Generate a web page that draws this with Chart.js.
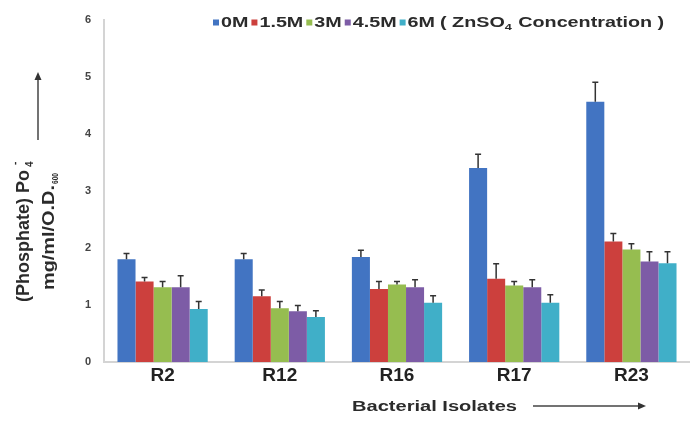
<!DOCTYPE html>
<html>
<head>
<meta charset="utf-8">
<script src="https://cdn.jsdelivr.net/npm/chart.js@4.4.1/dist/chart.umd.min.js"></script>
<style>
  body { margin: 0; background: #fff; }
</style>
</head>
<body>
<canvas id="myChart" width="690" height="421"></canvas>
<script>
const categories = ['R2', 'R12', 'R16', 'R17', 'R23'];
const seriesNames = ['0M', '1.5M', '3M', '4.5M', '6M'];

// mean values per ZnSO4 concentration
const values0M = [1.80, 1.80, 1.84, 3.40, 4.56];
const values1_5M = [1.41, 1.15, 1.28, 1.46, 2.11];
const values3M = [1.31, 0.94, 1.36, 1.34, 1.97];
const values4_5M = [1.31, 0.89, 1.31, 1.31, 1.76];
const values6M = [0.93, 0.79, 1.04, 1.04, 1.73];

// upper error bar lengths
const errors0M = [0.10, 0.10, 0.12, 0.24, 0.34];
const errors1_5M = [0.07, 0.11, 0.13, 0.26, 0.14];
const errors3M = [0.10, 0.12, 0.05, 0.07, 0.10];
const errors4_5M = [0.20, 0.10, 0.13, 0.13, 0.17];
const errors6M = [0.13, 0.11, 0.12, 0.14, 0.20];

const yTicks = [0, 1, 2, 3, 4, 5, 6];

const colors = ['#4274c2', '#cc403d', '#96bd50', '#7d5ca6', '#40afc8'];
const allValues = [values0M, values1_5M, values3M, values4_5M, values6M];
const allErrors = [errors0M, errors1_5M, errors3M, errors4_5M, errors6M];

const textColor = '#2b2b2b';

// draws text squeezed/stretched along its own direction to a given length
function fitText(ctx, text, x, y, font, length) {
    ctx.save();
    ctx.font = font;
    const w = ctx.measureText(text).width;
    ctx.translate(x, y);
    ctx.scale(length / w, 1);
    ctx.fillText(text, 0, 0);
    ctx.restore();
}

function stretchText(ctx, text, x, y, font, sx) {
    ctx.save();
    ctx.font = font;
    const w = ctx.measureText(text).width;
    ctx.translate(x, y);
    ctx.scale(sx, 1);
    ctx.fillText(text, 0, 0);
    ctx.restore();
    return w * sx;
}

const errorBars = {
    id: 'errorBars',
    afterDatasetsDraw(chart) {
        const ctx = chart.ctx;
        const y = chart.scales.y;
        ctx.save();
        ctx.strokeStyle = '#333';
        ctx.lineWidth = 1.5;
        chart.data.datasets.forEach((ds, i) => {
            chart.getDatasetMeta(i).data.forEach((bar, j) => {
                const top = y.getPixelForValue(ds.data[j] + ds.errors[j]);
                ctx.beginPath();
                ctx.moveTo(bar.x, bar.y);
                ctx.lineTo(bar.x, top);
                ctx.moveTo(bar.x - 3, top);
                ctx.lineTo(bar.x + 3, top);
                ctx.stroke();
            });
        });
        ctx.restore();
    }
};

const decorations = {
    id: 'decorations',
    afterDraw(chart) {
        const ctx = chart.ctx;
        ctx.save();
        ctx.fillStyle = textColor;
        ctx.textBaseline = 'alphabetic';
        ctx.textAlign = 'left';

        // legend
        const font = 'bold 14px "Liberation Sans", Arial, sans-serif';
        const sx = 1.41;
        let x = 213;
        seriesNames.forEach((name, i) => {
            ctx.fillStyle = colors[i];
            ctx.fillRect(x, 19.5, 6, 6);
            x += 8;
            ctx.fillStyle = textColor;
            x += stretchText(ctx, name, x, 27, font, sx) + 3;
        });
        x += 2;
        x += stretchText(ctx, '( ZnSO', x, 27, font, sx);
        x += stretchText(ctx, '4', x, 30, 'bold 9px "Liberation Sans", Arial, sans-serif', sx) + 1;
        stretchText(ctx, ' Concentration )', x, 27, font, sx);

        // y title
        ctx.save();
        ctx.translate(29, 302);
        ctx.rotate(-Math.PI / 2);
        ctx.font = 'bold 18px "Liberation Sans", Arial, sans-serif';
        ctx.fillText('(Phosphate) Po', 0, 0);
        const w1 = ctx.measureText('(Phosphate) Po').width;
        ctx.font = 'bold 10px "Liberation Sans", Arial, sans-serif';
        ctx.fillText('4', w1 + 3, 4);
        ctx.fillText('-', w1 + 5, -11);
        ctx.restore();

        ctx.save();
        ctx.translate(54, 290);
        ctx.rotate(-Math.PI / 2);
        fitText(ctx, 'mg/ml/O.D.', 0, 0, 'bold 17px "Liberation Sans", Arial, sans-serif', 105);
        fitText(ctx, '600', 106, 4, 'bold 9px "Liberation Sans", Arial, sans-serif', 11);
        ctx.restore();

        // arrows
        ctx.strokeStyle = '#444';
        ctx.fillStyle = '#333';
        ctx.lineWidth = 1.5;
        ctx.beginPath();
        ctx.moveTo(38, 140);
        ctx.lineTo(38, 78);
        ctx.stroke();
        ctx.beginPath();
        ctx.moveTo(38, 72);
        ctx.lineTo(34.5, 80);
        ctx.lineTo(41.5, 80);
        ctx.closePath();
        ctx.fill();

        ctx.beginPath();
        ctx.moveTo(533, 406);
        ctx.lineTo(640, 406);
        ctx.stroke();
        ctx.beginPath();
        ctx.moveTo(646, 406);
        ctx.lineTo(638, 402.5);
        ctx.lineTo(638, 409.5);
        ctx.closePath();
        ctx.fill();

        // x title
        ctx.fillStyle = textColor;
        fitText(ctx, 'Bacterial Isolates', 352, 411, 'bold 14px "Liberation Sans", Arial, sans-serif', 165);
        ctx.restore();
    }
};

const ctx = document.getElementById('myChart');

new Chart(ctx, {
    type: 'bar',
    data: {
        labels: categories,
        datasets: seriesNames.map((name, i) => ({
            label: name,
            data: allValues[i],
            errors: allErrors[i],
            backgroundColor: colors[i],
            borderWidth: 0,
            categoryPercentage: 0.77,
            barPercentage: 1.0,
        }))
    },
    options: {
        responsive: false,
        animation: false,
        layout: {
            padding: { top: 17, left: 0, right: 0, bottom: 0 }
        },
        plugins: {
            legend: { display: false },
            tooltip: { enabled: false }
        },
        scales: {
            x: {
                grid: { display: false, drawTicks: false },
                border: { color: '#d4d4d4', width: 2 },
                ticks: {
                    color: '#222',
                    padding: 2,
                    font: { family: '"Liberation Sans", Arial, sans-serif', size: 19, weight: 'bold' }
                },
                afterFit: s => { s.height = 59; }
            },
            y: {
                min: 0,
                max: 6,
                afterBuildTicks: s => { s.ticks = yTicks.map(v => ({ value: v })); },
                grid: { display: false, drawTicks: false },
                border: { color: '#d4d4d4', width: 2 },
                ticks: {
                    color: '#444',
                    padding: 13,
                    font: { family: '"Liberation Sans", Arial, sans-serif', size: 11, weight: 'bold' }
                },
                afterFit: s => { s.width = 104; }
            }
        }
    },
    plugins: [errorBars, decorations]
});
</script>
</body>
</html>
